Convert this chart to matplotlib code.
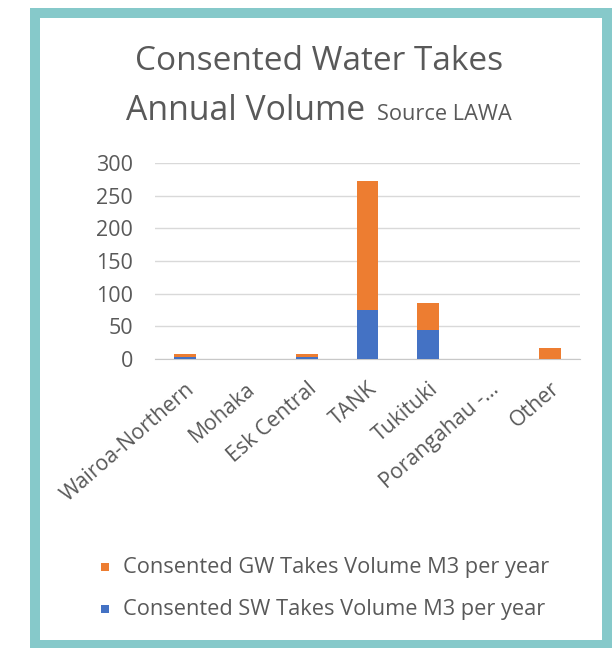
import matplotlib
matplotlib.use("Agg")
import matplotlib.pyplot as plt
from matplotlib.patches import Rectangle
import numpy as np

plt.rcParams['font.family'] = ['Open Sans', 'DejaVu Sans']

categories = ["Wairoa-Northern", "Mohaka", "Esk Central", "TANK", "Tukituki",
              "Porangahau -...", "Other"]
sw_volume = [3, 0, 3, 75, 45, 0, 0]
gw_volume = [5, 0, 5, 198, 41, 0, 17]
y_ticks = [0, 50, 100, 150, 200, 250, 300]

W, H = 615, 648
fig = plt.figure(figsize=(W / 100, H / 100), dpi=100)
fig.patch.set_facecolor("white")

text_grey = "#595959"
orange = "#ED7D31"
blue = "#4472C4"

# plot area in pixel terms
left, right, top, bottom = 155, 580, 163, 359
ax = fig.add_axes([left / W, 1 - bottom / H, (right - left) / W, (bottom - top) / H])

x = np.arange(len(categories))
ax.bar(x, sw_volume, width=0.36, color=blue, zorder=3)
ax.bar(x, gw_volume, width=0.36, bottom=sw_volume, color=orange, zorder=3)

ax.set_xlim(-0.5, len(categories) - 0.5)
ax.set_ylim(0, 300)
ax.set_yticks(y_ticks)
ax.set_yticklabels([str(t) for t in y_ticks], fontsize=15.5, color=text_grey)
ax.set_xticks(x)
ax.set_xticklabels(categories, rotation=41, ha="right", rotation_mode="anchor",
                   fontsize=15.3, color=text_grey)
ax.tick_params(axis="y", length=0, pad=16)
ax.tick_params(axis="x", length=0, pad=14)
ax.grid(axis="y", color="#d9d9d9", linewidth=1, zorder=0)
for s in ["top", "right", "left"]:
    ax.spines[s].set_visible(False)
ax.spines["bottom"].set_color("#c8c8c8")
ax.set_facecolor("white")

# title
fig.text(319 / W, 1 - 61 / H, "Consented Water Takes", ha="center", va="center",
         fontsize=24, color=text_grey)
fig.text(126 / W, 1 - 120 / H, "Annual Volume", ha="left", va="baseline",
         fontsize=24.3, color=text_grey)
fig.text(377 / W, 1 - 120 / H, "Source LAWA", ha="left", va="baseline",
         fontsize=15.7, color=text_grey)

# legend
legend_items = [("Consented GW Takes Volume M3 per year", orange, 567),
                ("Consented SW Takes Volume M3 per year", blue, 609)]
for label, col, yy in legend_items:
    fig.patches.append(Rectangle((101 / W, 1 - (yy + 4) / H), 8 / W, 8 / H,
                                 transform=fig.transFigure, facecolor=col,
                                 edgecolor="none"))
    fig.text(123 / W, 1 - yy / H, label, ha="left", va="center",
             fontsize=15.7, color=text_grey)

# teal frame
bw = 10
x0, x1, y0, y1 = 30, 612, 8, 650
fig.patches.append(Rectangle(((x0 + bw / 2) / W, 1 - (y1 - bw / 2) / H),
                             (x1 - x0 - bw) / W, (y1 - y0 - bw) / H,
                             transform=fig.transFigure, facecolor="none",
                             edgecolor="#86C9CA", linewidth=bw * 0.72))

fig.savefig("out.png", dpi=100, facecolor="white")
